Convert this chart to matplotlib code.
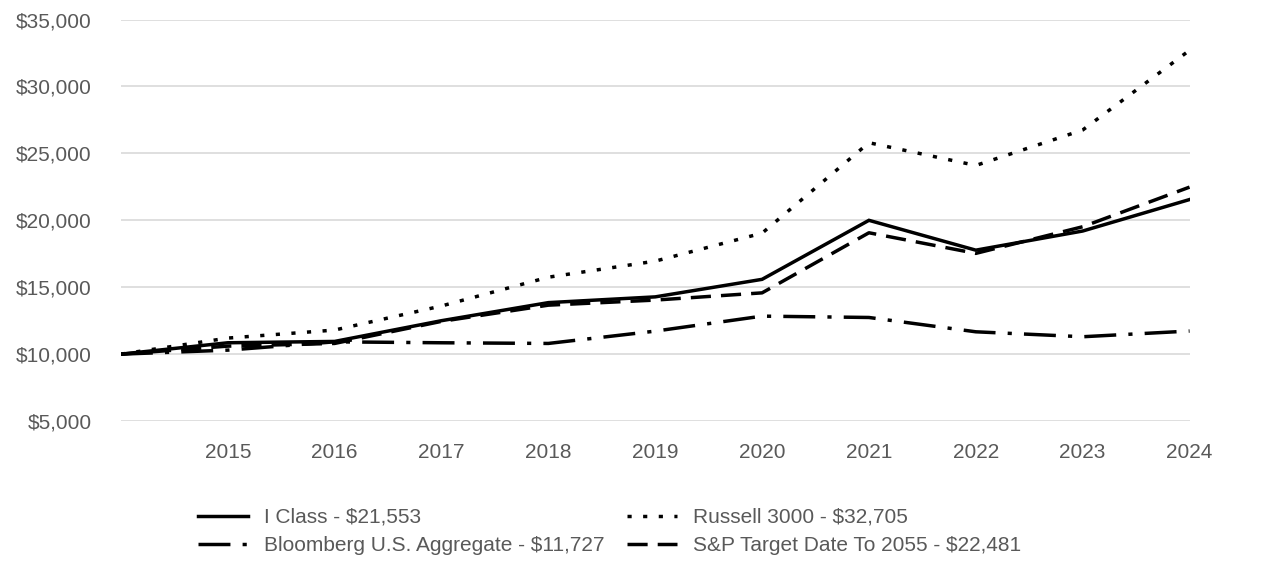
import matplotlib
matplotlib.use("Agg")
import matplotlib.pyplot as plt
from matplotlib.ticker import FuncFormatter

plt.rcParams['font.family'] = ['Liberation Sans Narrow', 'Liberation Sans', 'DejaVu Sans']

years = [2014, 2015, 2016, 2017, 2018, 2019, 2020, 2021, 2022, 2023, 2024]
i_class = [10000, 10850, 10950, 12500, 13850, 14280, 15590, 20000, 17770, 19200, 21553]
russell = [10000, 11200, 11800, 13600, 15750, 16950, 19040, 25800, 24100, 26750, 32705]
bloomberg = [10000, 10300, 10920, 10850, 10800, 11720, 12840, 12740, 11670, 11300, 11727]
sp2055 = [10000, 10600, 10800, 12450, 13660, 14040, 14580, 19070, 17530, 19520, 22481]

labels = ["I Class - $21,553", "Russell 3000 - $32,705",
          "Bloomberg U.S. Aggregate - $11,727", "S&P Target Date To 2055 - $22,481"]

fig = plt.figure(figsize=(12.86, 5.76), dpi=100)
ax = fig.add_axes([0.094, 0.269, 0.831, 0.697])

lw = 2.5
l1, = ax.plot(years, i_class, color='black', lw=lw, solid_joinstyle='miter')
l2, = ax.plot(years, russell, color='black', lw=lw, dashes=(1.2, 3.3))
l3, = ax.plot(years, bloomberg, color='black', lw=lw, dashes=(9.2, 3.5, 1.2, 3.5))
l4, = ax.plot(years, sp2055, color='black', lw=lw, dashes=(5.8, 2.9))

ax.set_xlim(2014, 2024)
ax.set_ylim(5000, 35000)
ax.set_xticks(years[1:])
ax.set_yticks(range(5000, 35001, 5000))
ax.yaxis.set_major_formatter(FuncFormatter(lambda v, p: "${:,.0f}".format(v)))
ax.grid(axis='y', color='#d9d9d9', lw=1.2)
ax.set_axisbelow(True)
for s in ax.spines.values():
    s.set_visible(False)
ax.tick_params(axis='both', length=0, labelsize=15, labelcolor='#595959')
ax.tick_params(axis='x', pad=16)
ax.tick_params(axis='y', pad=21)

fig.legend([l1, l3, l2, l4], [labels[0], labels[2], labels[1], labels[3]],
           ncol=2, loc='center', bbox_to_anchor=(0.474, 0.077), frameon=False,
           fontsize=15, labelcolor='#595959', handlelength=2.4, handletextpad=0.75,
           columnspacing=1.1, labelspacing=0.45, alignment='left')

fig.savefig("out.png", dpi=100)
